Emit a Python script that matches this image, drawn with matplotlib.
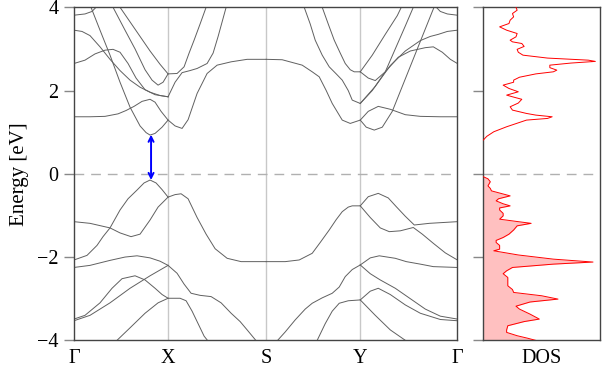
import matplotlib
matplotlib.use('Agg')
import matplotlib.pyplot as plt
import numpy as np

plt.rcParams['font.family'] = 'serif'
plt.rcParams['font.serif'] = ['Liberation Serif', 'DejaVu Serif']

# high-symmetry path
k_ticks = [0.0, 0.94, 1.92, 2.86, 3.83]
k_labels = ['Γ', 'X', 'S', 'Y', 'Γ']

# conduction bands, each a list of (k, E) points
cond_GX = [
    [(0, 1.37), (0.16, 1.37), (0.31, 1.38), (0.44, 1.44), (0.52, 1.52), (0.60, 1.62), (0.68, 1.74), (0.76, 1.79), (0.81, 1.72), (0.87, 1.50), (0.94, 1.29)],
    [(0.06, 4.4), (0.17, 4.0), (0.26, 3.45), (0.36, 2.85), (0.46, 2.2), (0.56, 1.6), (0.66, 1.15), (0.72, 0.99), (0.76, 0.93), (0.81, 0.97), (0.88, 1.12), (0.94, 1.29)],
    [(0, 2.65), (0.11, 2.73), (0.21, 2.88), (0.31, 2.97), (0.39, 2.99), (0.46, 2.92), (0.54, 2.65), (0.62, 2.3), (0.71, 2.02), (0.81, 1.9), (0.94, 1.85)],
    [(0, 3.45), (0.08, 3.42), (0.16, 3.32), (0.26, 3.05), (0.36, 2.75), (0.46, 2.48), (0.56, 2.25), (0.66, 2.08), (0.76, 1.96), (0.86, 1.88), (0.94, 1.85)],
    [(0.39, 4.0), (0.51, 3.45), (0.61, 3.0), (0.71, 2.5), (0.78, 2.25), (0.84, 2.13), (0.89, 2.2), (0.94, 2.4)],
    [(0.46, 4.0), (0.56, 3.65), (0.66, 3.3), (0.76, 2.95), (0.86, 2.63), (0.94, 2.4)],
    [(0, 3.81), (0.11, 3.84), (0.18, 3.9), (0.24, 4.05)],
]
cond_XS = [
    [(0.94, 1.29), (1.01, 1.15), (1.08, 1.09), (1.14, 1.3), (1.23, 1.93), (1.33, 2.41), (1.43, 2.61), (1.57, 2.69), (1.73, 2.75), (1.92, 2.75)],
    [(0.94, 1.85), (1.01, 2.2), (1.08, 2.43), (1.16, 2.48), (1.23, 2.53), (1.33, 2.65), (1.39, 2.9), (1.44, 3.3), (1.48, 3.65), (1.52, 4.0)],
    [(0.94, 2.4), (1.03, 2.41), (1.10, 2.57), (1.15, 2.9), (1.20, 3.21), (1.26, 3.6), (1.32, 4.0)],
]
cond_SY = [
    [(1.92, 2.75), (2.08, 2.74), (2.28, 2.61), (2.38, 2.45), (2.45, 2.33), (2.52, 2.0), (2.58, 1.69), (2.68, 1.29), (2.76, 1.21), (2.86, 1.29)],
    [(2.30, 4.0), (2.36, 3.6), (2.41, 3.21), (2.48, 2.85), (2.55, 2.57), (2.62, 2.4), (2.68, 2.25), (2.74, 2.0), (2.78, 1.77), (2.86, 1.69)],
    [(2.48, 4.0), (2.54, 3.6), (2.60, 3.21), (2.66, 2.9), (2.71, 2.65), (2.76, 2.5), (2.80, 2.45), (2.86, 2.45)],
]
cond_YG = [
    [(2.86, 1.29), (2.94, 1.5), (3.04, 1.62), (3.16, 1.55), (3.31, 1.42), (3.46, 1.38), (3.66, 1.37), (3.83, 1.37)],
    [(2.86, 1.29), (2.92, 1.12), (3.00, 1.05), (3.08, 1.12), (3.18, 1.5), (3.28, 2.1), (3.38, 2.7), (3.48, 3.3), (3.58, 3.9), (3.64, 4.25)],
    [(2.86, 1.69), (2.98, 2.0), (3.11, 2.45), (3.24, 2.8), (3.36, 2.95), (3.51, 3.03), (3.59, 3.05), (3.68, 2.92), (3.76, 2.75), (3.83, 2.65)],
    [(2.86, 1.69), (3.01, 2.1), (3.16, 2.6), (3.31, 2.95), (3.46, 3.2), (3.56, 3.3), (3.64, 3.35), (3.73, 3.42), (3.83, 3.45)],
    [(2.86, 2.45), (2.94, 2.3), (3.01, 2.24), (3.11, 2.45), (3.21, 3.0), (3.31, 3.55), (3.39, 4.0)],
    [(2.86, 2.45), (2.98, 2.85), (3.11, 3.35), (3.23, 3.8), (3.27, 4.0)],
    [(3.60, 4.05), (3.66, 3.9), (3.73, 3.84), (3.83, 3.81)],
]

# valence bands
val_GX = [
    [(0, -2.07), (0.13, -1.96), (0.23, -1.72), (0.29, -1.51), (0.36, -1.3), (0.46, -0.87), (0.54, -0.6), (0.63, -0.39), (0.70, -0.22), (0.76, -0.15), (0.82, -0.22), (0.88, -0.38), (0.94, -0.56)],
    [(0, -1.15), (0.16, -1.19), (0.36, -1.3), (0.46, -1.42), (0.57, -1.51), (0.66, -1.45), (0.76, -1.11), (0.84, -0.8), (0.94, -0.56)],
    [(0, -2.25), (0.16, -2.2), (0.36, -2.08), (0.51, -2.0), (0.63, -1.97), (0.76, -2.02), (0.86, -2.1), (0.94, -2.2)],
    [(0, -3.49), (0.11, -3.4), (0.26, -3.1), (0.38, -2.75), (0.48, -2.52), (0.61, -2.45), (0.71, -2.55), (0.81, -2.75), (0.88, -2.9), (0.94, -2.99)],
    [(0, -3.53), (0.16, -3.4), (0.36, -3.1), (0.56, -2.75), (0.76, -2.45), (0.94, -2.2)],
    [(0.38, -4.1), (0.43, -4.0), (0.56, -3.7), (0.71, -3.35), (0.84, -3.1), (0.94, -2.99)],
]
val_XS = [
    [(0.94, -0.56), (1.01, -0.5), (1.07, -0.48), (1.14, -0.6), (1.23, -1.05), (1.32, -1.45), (1.41, -1.8), (1.53, -2.03), (1.67, -2.11), (1.92, -2.11)],
    [(0.94, -2.2), (1.03, -2.39), (1.10, -2.65), (1.17, -2.87), (1.26, -2.92), (1.37, -2.95), (1.47, -3.1), (1.57, -3.35), (1.66, -3.55), (1.73, -3.75), (1.83, -4.04), (1.92, -4.12)],
    [(0.94, -2.99), (1.06, -2.99), (1.12, -3.05), (1.18, -3.3), (1.24, -3.6), (1.30, -3.9), (1.35, -4.05), (1.42, -4.3)],
]
val_SY = [
    [(1.92, -2.11), (2.11, -2.11), (2.25, -2.07), (2.38, -1.91), (2.46, -1.65), (2.55, -1.35), (2.62, -1.1), (2.68, -0.91), (2.74, -0.8), (2.78, -0.77), (2.86, -0.77)],
    [(1.92, -4.12), (1.98, -4.08), (2.02, -4.04), (2.11, -3.8), (2.21, -3.51), (2.31, -3.25), (2.38, -3.11), (2.48, -2.98), (2.58, -2.87), (2.65, -2.72), (2.71, -2.47), (2.78, -2.3), (2.86, -2.19)],
    [(2.26, -4.5), (2.36, -4.2), (2.43, -4.0), (2.51, -3.6), (2.58, -3.3), (2.65, -3.11), (2.74, -3.05), (2.86, -3.03)],
]
val_YG = [
    [(2.86, -0.77), (2.94, -0.55), (3.04, -0.47), (3.14, -0.58), (3.22, -0.79), (3.31, -1.02), (3.40, -1.23), (3.55, -1.19), (3.83, -1.15)],
    [(2.86, -0.77), (2.96, -1.05), (3.06, -1.3), (3.15, -1.39), (3.26, -1.37), (3.39, -1.29), (3.48, -1.45), (3.59, -1.67), (3.71, -1.9), (3.83, -2.07)],
    [(2.86, -2.19), (2.96, -2.02), (3.05, -1.97), (3.21, -2.03), (3.32, -2.11), (3.46, -2.17), (3.59, -2.23), (3.83, -2.25)],
    [(2.86, -2.19), (2.96, -2.4), (3.06, -2.55), (3.21, -2.75), (3.36, -3.0), (3.51, -3.25), (3.66, -3.42), (3.83, -3.49)],
    [(2.86, -3.03), (2.96, -2.82), (3.04, -2.75), (3.16, -2.9), (3.31, -3.15), (3.46, -3.35), (3.66, -3.5), (3.83, -3.53)],
    [(2.86, -3.03), (3.01, -3.4), (3.16, -3.75), (3.31, -4.0), (3.38, -4.15)],
]

# density of states (energy, dos)
dos_E_cb = [0.81, 0.9, 1.01, 1.13, 1.29, 1.33, 1.37, 1.41, 1.45, 1.53, 1.61, 1.70, 1.79, 1.85, 1.89, 1.97, 2.05, 2.13, 2.20, 2.25, 2.32,
            2.40, 2.45, 2.49, 2.55, 2.61, 2.66, 2.70, 2.73, 2.78, 2.85, 2.92, 2.99, 3.06, 3.13, 3.17, 3.21, 3.29, 3.37, 3.45, 3.53,
            3.61, 3.69, 3.77, 3.85, 3.93, 4.0]
dos_cb = [0.0, 0.03, 0.09, 0.20, 0.37, 0.55, 0.59, 0.45, 0.37, 0.25, 0.23, 0.30, 0.33, 0.25, 0.20, 0.30, 0.22, 0.17, 0.26, 0.26, 0.31,
          0.45, 0.60, 0.63, 0.57, 0.57, 0.75, 0.96, 0.90, 0.55, 0.34, 0.30, 0.29, 0.35, 0.33, 0.25, 0.23, 0.28, 0.29, 0.20, 0.14,
          0.22, 0.23, 0.26, 0.25, 0.29, 0.28]
dos_E_vb = [-0.07, -0.12, -0.19, -0.29, -0.35, -0.41, -0.47, -0.53, -0.60, -0.65, -0.72, -0.77, -0.82, -0.87, -0.95, -1.01, -1.09,
            -1.15, -1.19, -1.25, -1.35, -1.45, -1.53, -1.60, -1.65, -1.72, -1.81, -1.85, -1.95, -2.05, -2.12, -2.17, -2.25, -2.33,
            -2.40, -2.49, -2.60, -2.69, -2.78, -2.85, -2.93, -3.01, -3.08, -3.18, -3.25, -3.37, -3.49, -3.55, -3.65, -3.75, -3.81,
            -3.89, -3.95, -4.01]
dos_vb = [0.0, 0.04, 0.06, 0.04, 0.06, 0.07, 0.15, 0.23, 0.13, 0.11, 0.17, 0.23, 0.14, 0.14, 0.17, 0.17, 0.14,
          0.30, 0.41, 0.29, 0.26, 0.22, 0.17, 0.11, 0.11, 0.14, 0.14, 0.09, 0.30, 0.60, 0.94, 0.60, 0.25, 0.20,
          0.17, 0.21, 0.21, 0.21, 0.25, 0.26, 0.50, 0.64, 0.40, 0.28, 0.31, 0.40, 0.48, 0.35, 0.21, 0.20, 0.20,
          0.29, 0.38, 0.46]

# gap arrow
gap_k = 0.77
gap_bottom = -0.15
gap_top = 0.94

band_color = '#606060'
grid_color = '#c8c8c8'
spine_color = '#444444'

fig = plt.figure(figsize=(6.02, 3.72), dpi=100)
ax = fig.add_axes([0.1229, 0.0852, 0.6368, 0.8952])
ax2 = fig.add_axes([0.8028, 0.0852, 0.1939, 0.8952])

for k in k_ticks[1:-1]:
    ax.axvline(k, color=grid_color, lw=1.0, zorder=1)
ax.axhline(0, color='#b0b0b0', lw=1.0, dashes=(7, 5), zorder=1)

for band in cond_GX + cond_XS + cond_SY + cond_YG + val_GX + val_XS + val_SY + val_YG:
    kk, ee = zip(*band)
    ax.plot(kk, ee, color=band_color, lw=0.7, zorder=2)

ax.annotate('', xy=(gap_k, gap_top), xytext=(gap_k, gap_bottom),
            arrowprops=dict(arrowstyle='<->', color='blue', lw=1.4, mutation_scale=9,
                            shrinkA=0, shrinkB=0), zorder=3)

ax.set_xlim(k_ticks[0], k_ticks[-1])
ax.set_ylim(-4, 4)
ax.set_xticks(k_ticks)
ax.set_xticklabels(k_labels, fontsize=14.5)
ax.set_yticks([-4, -2, 0, 2, 4])
ax.tick_params(axis='x', length=0, pad=6)
ax.tick_params(axis='y', direction='out', length=7, width=1, color='#888888', labelsize=14.5, pad=4)
ax.set_ylabel('Energy [eV]', fontsize=15, labelpad=6)
for s in ax.spines.values():
    s.set_color(spine_color)
    s.set_linewidth(1.0)

# DOS panel
ax2.axhline(0, color='#b0b0b0', lw=1.0, dashes=(7, 5), zorder=1)
ax2.fill_betweenx(dos_E_vb, 0, dos_vb, color='#ffc0c0', lw=0, zorder=2)
ax2.plot(dos_vb, dos_E_vb, color='red', lw=0.7, zorder=3)
ax2.plot(dos_cb, dos_E_cb, color='red', lw=0.7, zorder=3)
ax2.set_xlim(0, 1.0)
ax2.set_ylim(-4, 4)
ax2.set_yticks([-4, -2, 0, 2, 4])
ax2.set_yticklabels([])
ax2.set_xticks([0.5])
ax2.set_xticklabels(['DOS'], fontsize=14.5)
ax2.tick_params(axis='x', length=0, pad=6)
ax2.tick_params(axis='y', direction='out', length=7, width=1, color='#888888')
for s in ax2.spines.values():
    s.set_color(spine_color)
    s.set_linewidth(1.0)

fig.savefig('out.png', dpi=100)
